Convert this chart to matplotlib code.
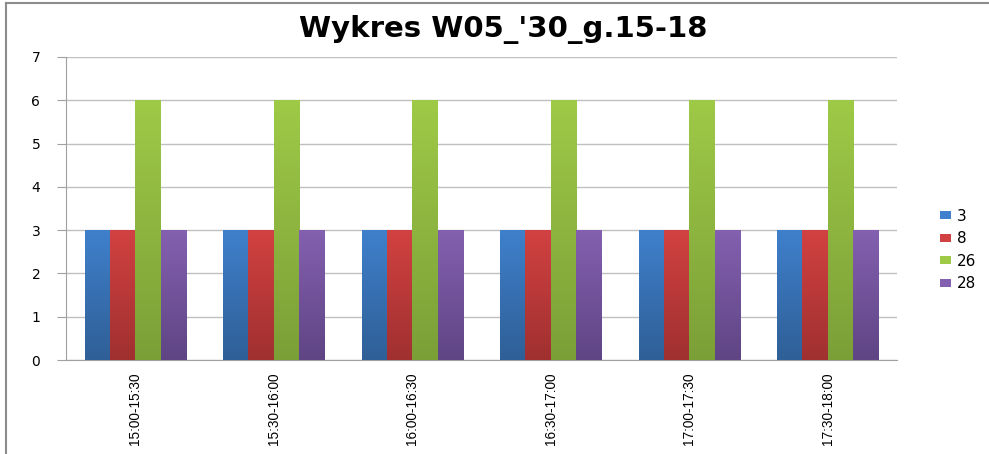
import numpy as np
import matplotlib.pyplot as plt
from matplotlib.colors import LinearSegmentedColormap
from matplotlib.patches import Patch
from matplotlib.lines import Line2D

# dane
przedzialy = ['15:00-15:30', '15:30-16:00', '16:00-16:30',
              '16:30-17:00', '17:00-17:30', '17:30-18:00']
serie = ['3', '8', '26', '28']
v3 = [3, 3, 3, 3, 3, 3]
v8 = [3, 3, 3, 3, 3, 3]
v26 = [6, 6, 6, 6, 6, 6]
v28 = [3, 3, 3, 3, 3, 3]

# kolory (gora jasniejsza, dol ciemniejszy)
kolory = [('#3F80CC', '#2F5F96'),
          ('#D24141', '#A03030'),
          ('#9ECA47', '#7B9F37'),
          ('#8460B0', '#5F4584')]

plt.rcParams['font.family'] = ['DejaVu Sans']

fig = plt.figure(figsize=(9.89, 4.54), dpi=100)
ax = fig.add_axes([66 / 989, 1 - 360 / 454, (897 - 66) / 989, (360 - 57) / 454])

x = np.arange(len(przedzialy))
w = 0.1825
dane = [v3, v8, v26, v28]
grad = np.linspace(1, 0, 256).reshape(-1, 1)

for i, (vals, (c_top, c_bot)) in enumerate(zip(dane, kolory)):
    bars = ax.bar(x + (i - 1.5) * w, vals, w, color=c_top, edgecolor='none',
                  label=serie[i], zorder=2)
    cmap = LinearSegmentedColormap.from_list('g%d' % i, [c_bot, c_top])
    for b in bars:
        bx, by = b.get_x(), b.get_y()
        bw, bh = b.get_width(), b.get_height()
        im = ax.imshow(grad, cmap=cmap, aspect='auto', origin='upper',
                       extent=[bx, bx + bw, by, by + bh], zorder=3)
        im.set_clip_path(b)

ax.set_xlim(-0.5, len(przedzialy) - 0.5)
ax.set_ylim(0, 7)
ax.set_yticks(range(0, 8))
ax.set_xticks(x)
ax.set_xticklabels(przedzialy, rotation=90, fontsize=9.8, family='Liberation Sans')
ax.tick_params(axis='x', length=0, pad=9)
ax.tick_params(axis='y', length=6.5, color='#A0A0A0', labelsize=10, pad=12)

ax.grid(axis='y', color='#C0C0C0', linewidth=1)
ax.set_axisbelow(True)
for s in ['top', 'right']:
    ax.spines[s].set_visible(False)
ax.spines['left'].set_color('#A0A0A0')
ax.spines['bottom'].set_color('#A0A0A0')

uchwyty = [Patch(facecolor=k[0], edgecolor='none') for k in kolory]
ax.legend(uchwyty, serie, loc='center left', bbox_to_anchor=(926 / 989, 1 - 250 / 454),
          bbox_transform=fig.transFigure, frameon=False, fontsize=11,
          handlelength=0.75, handleheight=0.45, handletextpad=0.35, labelspacing=0.5)

fig.text(503 / 989, 1 - 29 / 454, "Wykres W05_'30_g.15-18", ha='center', va='center',
         fontsize=21, fontweight='bold')

# ramka wykresu
fig.add_artist(Line2D([6 / 989, 6 / 989], [0, 1 - 3 / 454], transform=fig.transFigure,
                      color='#8C8C8C', linewidth=1.5))
fig.add_artist(Line2D([6 / 989, 1], [1 - 3 / 454, 1 - 3 / 454], transform=fig.transFigure,
                      color='#8C8C8C', linewidth=1.5))

fig.savefig('out.png', dpi=100)
